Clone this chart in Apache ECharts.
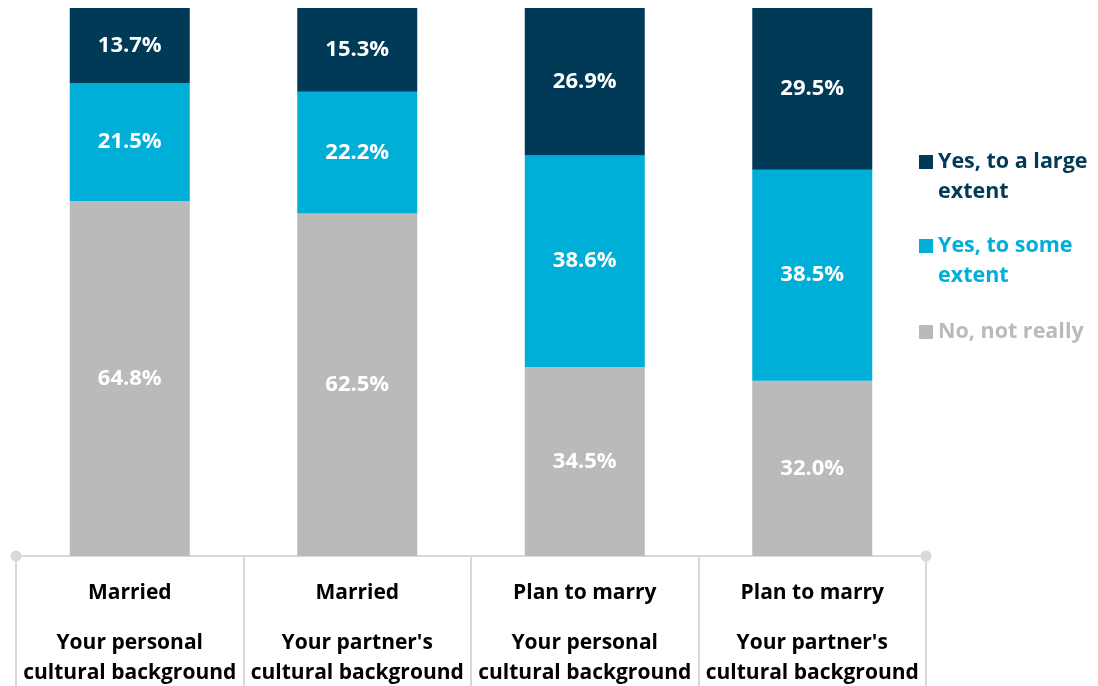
<!DOCTYPE html>
<html>
<head>
<meta charset="utf-8">
<script src="https://cdn.jsdelivr.net/npm/echarts@6/dist/echarts.min.js"></script>
<style>
  html, body { margin: 0; padding: 0; background: #fff; }
  #chart { width: 1098px; height: 686px; }
</style>
</head>
<body>
<div id="chart"></div>
<script>
// categories: group + question
const groups = ["Married", "Married", "Plan to marry", "Plan to marry"]
const questions = ["Your personal\ncultural background", "Your partner's\ncultural background", "Your personal\ncultural background", "Your partner's\ncultural background"]

const seriesNames = ["No, not really", "Yes, to some extent", "Yes, to a large extent"]
const noNotReally = [64.8, 62.5, 34.5, 32.0]
const yesSome = [21.5, 22.2, 38.6, 38.5]
const yesLarge = [13.7, 15.3, 26.9, 29.5]

const colors = ["#BABABA", "#00AFD7", "#003A56"]
const font = "Open Sans"

const chart = echarts.init(document.getElementById("chart"))

function barSeries(name, data, color) {
  return {
    name: name,
    type: "bar",
    stack: "total",
    data: data,
    barWidth: 120,
    itemStyle: { color: color },
    label: {
      show: true,
      position: "inside",
      color: "#fff",
      fontFamily: font,
      fontWeight: "bold",
      fontSize: 22,
      formatter: (p) => p.value.toFixed(1) + "%"
    }
  }
}

// square icon at the top of a taller box so it lines up with the first text line
const topSquare = "path://M0,0h14v14h-14zM0,43.95h0.05v0.05h-0.05z"

function legendBox(name, color, top, twoLines) {
  return {
    data: [{ name: name, textStyle: { color: color } }],
    left: 919,
    top: top,
    padding: 0,
    orient: "vertical",
    icon: twoLines ? topSquare : "rect",
    itemWidth: 14,
    itemHeight: twoLines ? 44 : 14,
    selectedMode: false,
    formatter: (n) => n === "Yes, to a large extent" ? "Yes, to a large\nextent" : (n === "Yes, to some extent" ? "Yes, to some\nextent" : n),
    textStyle: { fontFamily: font, fontWeight: "bold", fontSize: 21.5, lineHeight: 30 }
  }
}

const option = {
  animation: false,
  grid: { left: 16, right: 172, top: 8, bottom: 130 },
  legend: [
    legendBox(seriesNames[2], colors[2], 147, true),
    legendBox(seriesNames[1], colors[1], 231, true),
    legendBox(seriesNames[0], colors[0], 317, false)
  ],
  xAxis: {
    type: "category",
    data: groups.map((g, i) => g + "|" + questions[i]),
    axisLine: {
      lineStyle: { color: "#D9D9D9", width: 2 },
      symbol: ["circle", "circle"],
      symbolSize: [11, 11]
    },
    axisTick: { show: true, length: 132, interval: 0, lineStyle: { color: "#D9D9D9", width: 2 } },
    axisLabel: {
      interval: 0,
      margin: 22,
      color: "#000",
      fontFamily: font,
      fontWeight: "bold",
      fontSize: 21,
      formatter: (v) => {
        const parts = v.split("|")
        const q = parts[1].split("\n").map((s) => "{b|" + s + "}").join("\n")
        return "{a|" + parts[0] + "}\n{gap| }\n" + q
      },
      rich: {
        a: { fontFamily: font, fontWeight: "bold", fontSize: 21, lineHeight: 30, color: "#000" },
        gap: { fontSize: 10, lineHeight: 20 },
        b: { fontFamily: font, fontWeight: "bold", fontSize: 21, lineHeight: 30, color: "#000" }
      }
    }
  },
  yAxis: { type: "value", min: 0, max: 100, show: false, splitLine: { show: false } },
  series: [
    barSeries(seriesNames[0], noNotReally, colors[0]),
    barSeries(seriesNames[1], yesSome, colors[1]),
    barSeries(seriesNames[2], yesLarge, colors[2])
  ]
}

chart.setOption(option)
</script>
</body>
</html>
